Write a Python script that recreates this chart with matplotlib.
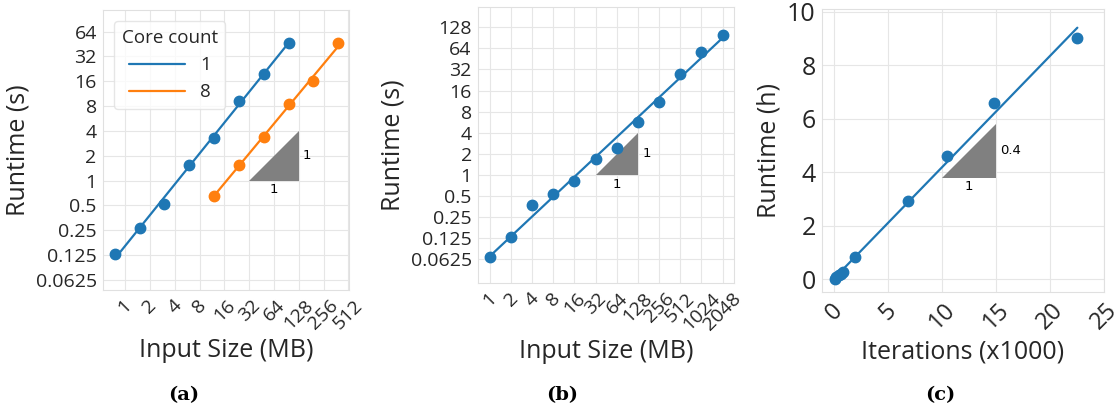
import numpy as np
import matplotlib
matplotlib.use("Agg")
import matplotlib.pyplot as plt
import matplotlib.ticker as mticker
import seaborn as sns

# (a) runtime vs input size, two core counts
a_size_1 = [0.75, 1.5, 3, 6, 12, 24, 48, 96]
a_time_1 = [0.127, 0.264, 0.52, 1.53, 3.32, 9.2, 19.6, 46.9]
a_size_8 = [12, 24, 48, 96, 192, 384]
a_time_8 = [0.65, 1.56, 3.35, 8.4, 16.0, 46.0]
core_labels = ["1", "8"]

# (b) runtime vs input size, single series
b_size = [1, 2, 4, 8, 16, 32, 64, 128, 256, 512, 1024, 2048]
b_time = [0.066, 0.13, 0.375, 0.53, 0.83, 1.71, 2.42, 5.68, 11.0, 27.6, 57.4, 101]

# (c) runtime vs iterations
c_iter = [0.02, 0.2, 0.4, 0.6, 0.8, 1.94, 6.81, 10.42, 14.77, 22.53]
c_hours = [0.0, 0.07, 0.14, 0.2, 0.27, 0.84, 2.93, 4.59, 6.59, 9.01]

a_xticks = [1, 2, 4, 8, 16, 32, 64, 128, 256, 512]
a_yticks = [0.0625, 0.125, 0.25, 0.5, 1, 2, 4, 8, 16, 32, 64]
a_ytick_labels = ["0.0625", "0.125", "0.25", "0.5", "1", "2", "4", "8", "16", "32", "64"]
b_xticks = [1, 2, 4, 8, 16, 32, 64, 128, 256, 512, 1024, 2048]
b_yticks = [0.0625, 0.125, 0.25, 0.5, 1, 2, 4, 8, 16, 32, 64, 128]
b_ytick_labels = ["0.0625", "0.125", "0.25", "0.5", "1", "2", "4", "8", "16", "32", "64", "128"]
c_xticks = [0, 5, 10, 15, 20, 25]
c_yticks = [0, 2, 4, 6, 8, 10]

sns.set_style("whitegrid", {"grid.color": "#e6e6e6", "axes.edgecolor": "#e0e0e0"})
plt.rcParams["font.family"] = ["Open Sans", "DejaVu Sans"]
plt.rcParams["text.color"] = "#262626"
plt.rcParams["xtick.color"] = "#262626"
plt.rcParams["ytick.color"] = "#262626"

BLUE = "#1f77b4"
ORANGE = "#ff7f0e"
TICK_FS = 14
LABEL_FS = 18
W, H = 1120, 408

fig = plt.figure(figsize=(W / 100, H / 100), dpi=100)


def px_axes(left, right, top, bottom):
    return fig.add_axes([left / W, (H - bottom) / H, (right - left) / W, (bottom - top) / H])


def loglog_fit(x, y):
    x = np.asarray(x, float)
    y = np.asarray(y, float)
    k, c = np.polyfit(np.log2(x), np.log2(y), 1)
    xs = np.array([x.min(), x.max()])
    return xs, 2 ** (k * np.log2(xs) + c)


def set_log2(ax, xticks, yticks, ylabels):
    ax.set_xscale("log", base=2)
    ax.set_yscale("log", base=2)
    ax.xaxis.set_major_locator(mticker.FixedLocator(xticks))
    ax.xaxis.set_major_formatter(mticker.FixedFormatter([str(t) for t in xticks]))
    ax.yaxis.set_major_locator(mticker.FixedLocator(yticks))
    ax.yaxis.set_major_formatter(mticker.FixedFormatter(ylabels))
    ax.xaxis.set_minor_locator(mticker.NullLocator())
    ax.yaxis.set_minor_locator(mticker.NullLocator())


def triangle(ax, x0, x1, y0, y1, xlab, ylab, log=True):
    ax.fill([x0, x1, x1], [y0, y0, y1], color="gray", lw=0, zorder=1)
    xm = np.sqrt(x0 * x1) if log else (x0 + x1) / 2
    ym = np.sqrt(y0 * y1) if log else (y0 + y1) / 2
    ax.annotate(xlab, (xm, y0), xytext=(0, -2), textcoords="offset points",
                ha="center", va="top", fontsize=9.5, family="DejaVu Sans", color="black")
    ax.annotate(ylab, (x1, ym), xytext=(3, 0), textcoords="offset points",
                ha="left", va="center", fontsize=9.5, family="DejaVu Sans", color="black")


# ---- (a)
ax = px_axes(103, 349, 10, 290)
set_log2(ax, a_xticks, a_yticks, a_ytick_labels)
for xs, ys, col, lab in [(a_size_1, a_time_1, BLUE, core_labels[0]),
                         (a_size_8, a_time_8, ORANGE, core_labels[1])]:
    lx, ly = loglog_fit(xs, ys)
    ax.plot(lx, ly, color=col, lw=1.6, label=lab, zorder=2)
    ax.plot(xs, ys, "o", color=col, ms=7.5, zorder=3)
triangle(ax, 32, 128, 1, 4, "1", "1")
ax.set_xlim(0.54, 520)
ax.set_ylim(0.047, 117)
ax.tick_params(axis="x", labelrotation=45, labelsize=TICK_FS, pad=1)
ax.tick_params(axis="y", labelsize=TICK_FS, pad=1)
ax.set_xlabel("Input Size (MB)", fontsize=LABEL_FS)
ax.set_ylabel("Runtime (s)", fontsize=LABEL_FS)
leg = ax.legend(title="Core count", loc="upper left", fontsize=13.5, title_fontsize=13.5,
                handlelength=3.0, borderaxespad=0.6, labelspacing=0.5)
leg.get_frame().set_edgecolor("#e0e0e0")

# ---- (b)
ax = px_axes(478, 734, 7, 283)
set_log2(ax, b_xticks, b_yticks, b_ytick_labels)
lx, ly = loglog_fit(b_size, b_time)
ax.plot(lx, ly, color=BLUE, lw=1.6, zorder=2)
ax.plot(b_size, b_time, "o", color=BLUE, ms=7.5, zorder=3)
triangle(ax, 32, 128, 1, 4, "1", "1")
ax.set_xlim(0.68, 2970)
ax.set_ylim(0.0285, 250)
ax.tick_params(axis="x", labelrotation=45, labelsize=TICK_FS, pad=1)
ax.tick_params(axis="y", labelsize=TICK_FS, pad=1)
ax.set_xlabel("Input Size (MB)", fontsize=LABEL_FS)
ax.set_ylabel("Runtime (s)", fontsize=LABEL_FS)

# ---- (c)
ax = px_axes(822, 1104, 9, 292)
k, c = np.polyfit(c_iter, c_hours, 1)
lx = np.array([min(c_iter), max(c_iter)])
ax.plot(lx, k * lx + c, color=BLUE, lw=1.6, zorder=2)
ax.plot(c_iter, c_hours, "o", color=BLUE, ms=7.5, zorder=3)
triangle(ax, 10, 15, 3.8, 5.8, "1", "0.4", log=False)
ax.set_xticks(c_xticks)
ax.set_yticks(c_yticks)
ax.set_xlim(-1.14, 25)
ax.set_ylim(-0.48, 10.1)
ax.tick_params(axis="x", labelrotation=45, labelsize=17, pad=1)
ax.tick_params(axis="y", labelsize=18, pad=1)
ax.set_xlabel("Iterations (x1000)", fontsize=LABEL_FS)
ax.set_ylabel("Runtime (h)", fontsize=LABEL_FS)

# captions
for x, t in [(184, "(a)"), (562, "(b)"), (940, "(c)")]:
    fig.text(x / W, 1 - 395 / H, t, ha="center", va="center", fontsize=14,
             family="DejaVu Serif", weight="bold", color="black")

fig.savefig("out.png", dpi=100)
